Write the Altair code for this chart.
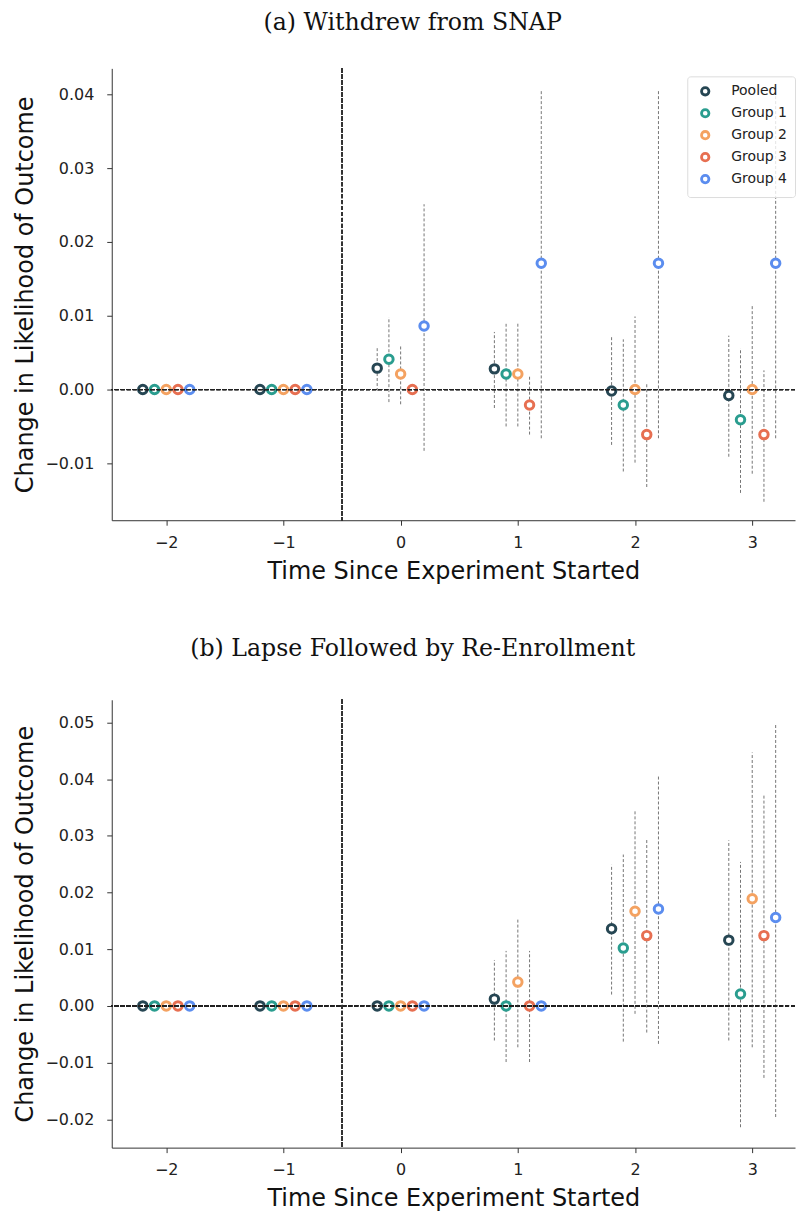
import altair as alt
import pandas as pd

times = [-2, -1, 0, 1, 2, 3]
groups = ["Pooled", "Group 1", "Group 2", "Group 3", "Group 4"]
colors = ["#264653", "#2a9d8f", "#f4a261", "#e76f51", "#5b8def"]
dodge = [-0.2, -0.1, 0.0, 0.1, 0.2]

# Panel (a): Withdrew from SNAP
a_pooled_est = [0, 0, 0.0029, 0.0028, -0.0002, -0.0008]
a_pooled_lo = [None, None, -0.0002, -0.0025, -0.0075, -0.0091]
a_pooled_hi = [None, None, 0.0056, 0.0078, 0.0071, 0.0073]
a_g1_est = [0, 0, 0.0041, 0.0021, -0.0021, -0.0041]
a_g1_lo = [None, None, -0.0017, -0.0050, -0.0111, -0.0140]
a_g1_hi = [None, None, 0.0098, 0.0089, 0.0068, 0.0056]
a_g2_est = [0, 0, 0.0021, 0.0021, 0.0, 0.0]
a_g2_lo = [None, None, -0.0020, -0.0050, -0.0099, -0.0114]
a_g2_hi = [None, None, 0.0060, 0.0090, 0.0099, 0.0114]
a_g3_est = [0, 0, 0.0, -0.0021, -0.0061, -0.0061]
a_g3_lo = [None, None, None, -0.0061, -0.0132, -0.0152]
a_g3_hi = [None, None, None, 0.0020, 0.0008, 0.0026]
a_g4_est = [0, 0, 0.0086, 0.0171, 0.0171, 0.0171]
a_g4_lo = [None, None, -0.0083, -0.0066, -0.0066, -0.0066]
a_g4_hi = [None, None, 0.0251, 0.0406, 0.0406, 0.0406]

# Panel (b): Lapse Followed by Re-Enrollment
b_pooled_est = [0, 0, 0, 0.0012, 0.0136, 0.0116]
b_pooled_lo = [None, None, None, -0.0061, 0.0020, -0.0061]
b_pooled_hi = [None, None, None, 0.0081, 0.0249, 0.0292]
b_g1_est = [0, 0, 0, 0.0, 0.0102, 0.0021]
b_g1_lo = [None, None, None, -0.0099, -0.0063, -0.0214]
b_g1_hi = [None, None, None, 0.0097, 0.0267, 0.0254]
b_g2_est = [0, 0, 0, 0.0042, 0.0167, 0.0189]
b_g2_lo = [None, None, None, -0.0073, -0.0014, -0.0073]
b_g2_hi = [None, None, None, 0.0155, 0.0345, 0.0447]
b_g3_est = [0, 0, 0, 0.0, 0.0124, 0.0124]
b_g3_lo = [None, None, None, -0.0099, -0.0047, -0.0127]
b_g3_hi = [None, None, None, 0.0097, 0.0293, 0.0371]
b_g4_est = [0, 0, 0, 0.0, 0.0171, 0.0156]
b_g4_lo = [None, None, None, None, -0.0067, -0.0196]
b_g4_hi = [None, None, None, None, 0.0406, 0.0499]

a_yticks = [-0.01, 0.0, 0.01, 0.02, 0.03, 0.04]
b_yticks = [-0.02, -0.01, 0.0, 0.01, 0.02, 0.03, 0.04, 0.05]
x_ticks = [-2, -1, 0, 1, 2, 3]


def build(series):
    rows = []
    for gi, (g, (est, lo, hi)) in enumerate(zip(groups, series)):
        for t, e, l, h in zip(times, est, lo, hi):
            rows.append({"group": g, "time": t, "x": t + dodge[gi], "est": e, "lo": l, "hi": h})
    return pd.DataFrame(rows)


df_a = build([
    (a_pooled_est, a_pooled_lo, a_pooled_hi),
    (a_g1_est, a_g1_lo, a_g1_hi),
    (a_g2_est, a_g2_lo, a_g2_hi),
    (a_g3_est, a_g3_lo, a_g3_hi),
    (a_g4_est, a_g4_lo, a_g4_hi),
])
df_b = build([
    (b_pooled_est, b_pooled_lo, b_pooled_hi),
    (b_g1_est, b_g1_lo, b_g1_hi),
    (b_g2_est, b_g2_lo, b_g2_hi),
    (b_g3_est, b_g3_lo, b_g3_hi),
    (b_g4_est, b_g4_lo, b_g4_hi),
])

XDOM = [-2.465, 3.365]
PLOT_W = 685


def panel(df, title, ydom, yticks, height, ly, toff):
    xs = alt.Scale(domain=XDOM, nice=False, zero=False)
    ys = alt.Scale(domain=ydom, nice=False, zero=False)
    xax = alt.Axis(values=x_ticks, format="d", title="Time Since Experiment Started")
    yax = alt.Axis(values=yticks, format=".2f", title="Change in Likelihood of Outcome")
    base = alt.Chart(df)
    err = base.transform_filter("isValid(datum.lo)").mark_rule(
        strokeDash=[3, 2], color="#666666", strokeWidth=0.9
    ).encode(
        x=alt.X("x:Q", scale=xs, axis=xax),
        y=alt.Y("lo:Q", scale=ys, axis=yax),
        y2="hi:Q",
    )
    pts = base.mark_point(shape="circle", filled=False, fill="white", fillOpacity=1,
                          size=72, strokeWidth=3, opacity=1).encode(
        x=alt.X("x:Q", scale=xs, axis=xax),
        y=alt.Y("est:Q", scale=ys, axis=yax),
        color=alt.Color("group:N", scale=alt.Scale(domain=groups, range=colors),
                        legend=alt.Legend(title=None, orient="none", legendX=577, legendY=ly)),
    )
    hline = base.mark_rule(strokeDash=[4, 2], color="#222", strokeWidth=0.9).encode(
        y=alt.datum(0, scale=ys)
    )
    vline = base.mark_rule(strokeDash=[4, 2], color="#333", strokeWidth=0.8).encode(
        x=alt.datum(-0.5, scale=xs)
    )
    return alt.layer(err, pts, hline, vline).properties(
        width=PLOT_W, height=height,
        title=alt.TitleParams(title, font="DejaVu Serif", fontSize=23.7, fontWeight="normal",
                              color="#111", offset=toff, anchor="middle", frame="bounds", dx=8),
    )


top = panel(df_a, "(a) Withdrew from SNAP", [-0.0177, 0.0435], a_yticks, 453, 8, 33)
bot = panel(df_b, "(b) Lapse Followed by Re-Enrollment", [-0.0250, 0.0540], b_yticks, 449, 7, 39)

chart = alt.vconcat(top, bot, spacing=53).properties(
    padding={"left": 5, "top": 1, "right": 0, "bottom": 0}
).configure_view(stroke=None).configure_axis(
    grid=False,
    domainColor="#333",
    tickColor="#333",
    tickSize=5,
    labelFont="DejaVu Sans",
    labelFontSize=16,
    labelColor="#222",
    labelPadding=13,
    titleFont="DejaVu Sans",
    titleFontSize=24,
    titleFontWeight="normal",
    titleColor="#111",
).configure_axisX(titlePadding=9, labelPadding=9).configure_axisY(titlePadding=7).configure_legend(
    labelFont="DejaVu Sans",
    labelFontSize=14,
    labelColor="#222",
    symbolType="circle",
    symbolSize=55,
    symbolStrokeWidth=2.8,
    symbolFillColor="white",
    symbolOffset=3,
    labelOffset=19,
    rowPadding=2,
    padding=8,
    fillColor="rgba(255,255,255,0.8)",
    strokeColor="#dcdcdc",
    cornerRadius=3,
)

chart.save("out.html", embed_options={"renderer": "svg", "actions": False})
